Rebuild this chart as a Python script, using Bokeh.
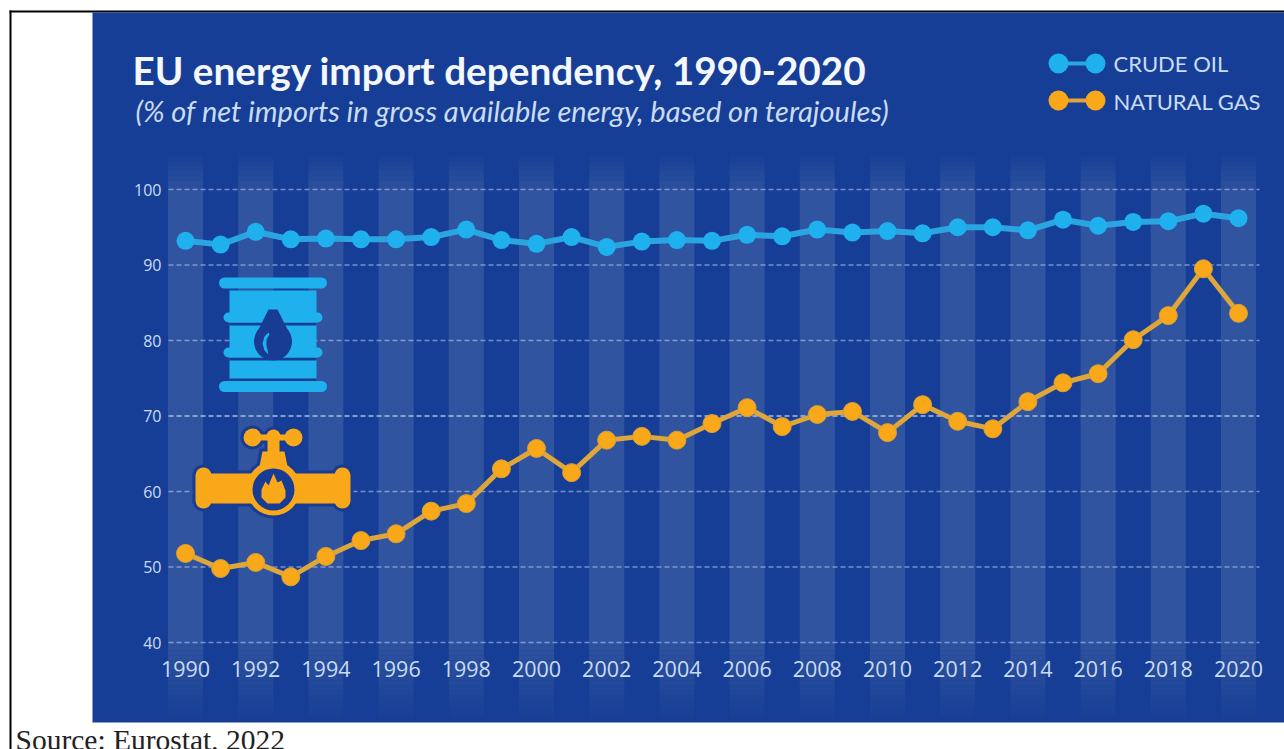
from bokeh.core.properties import value
from bokeh.embed import file_html
from bokeh.models import FixedTicker, LinearAxis, Range1d
from bokeh.plotting import figure
from bokeh.resources import INLINE

years = list(range(1990, 2021))
crude_oil = [93.2, 92.7, 94.4, 93.4, 93.5, 93.4, 93.4, 93.7, 94.7, 93.3, 92.8,
             93.7, 92.4, 93.1, 93.3, 93.2, 94.0, 93.8, 94.7, 94.3, 94.5,
             94.2, 95.0, 95.0, 94.6, 96.0, 95.2, 95.7, 95.8, 96.8, 96.2]
natural_gas = [51.8, 49.8, 50.6, 48.7, 51.4, 53.5, 54.4, 57.4, 58.4, 63.0, 65.7,
               62.5, 66.8, 67.3, 66.8, 69.0, 71.1, 68.6, 70.2, 70.6, 67.8,
               71.5, 69.3, 68.3, 71.9, 74.4, 75.6, 80.1, 83.3, 89.5, 83.6]
y_ticks = [40, 50, 60, 70, 80, 90, 100]
x_ticks = list(range(1990, 2021, 2))

W, H = 1284, 749
PANEL = "#173e96"
STRIPE = "#30549f"
HALO = "#183c94"
CYAN = "#1fb0ee"
CYAN_LINE = "#2aa5e2"
ORANGE = "#f9a81a"
ORANGE_LINE = "#dfa63a"
INK = "#c9dcf2"

# Pixel position of the data origin and scale of the plot area
X0, X_PER_YEAR = 185.0, 35.1
Y100, Y_PER_UNIT = 189.0, 7.55
# The svg text baseline lands this fraction of the font size below its anchor
BASELINE_SHIFT = 0.37


def x_at(px):
    return 1990 + (px - X0) / X_PER_YEAR


def y_at(py):
    return 100 - (py - Y100) / Y_PER_UNIT


p = figure(width=W, height=H, output_backend="svg", toolbar_location=None,
           x_range=Range1d(x_at(0), x_at(W)), y_range=Range1d(y_at(H), y_at(0)),
           x_axis_type=None, y_axis_type=None, min_border=0, outline_line_color=None,
           background_fill_color="white", border_fill_color="white")
p.extra_x_ranges["px"] = Range1d(0, W)
p.extra_y_ranges["px"] = Range1d(H, 0)
p.xgrid.visible = False
p.ygrid.visible = False


def box(l, r, t, b, color):
    p.quad(left=l, right=r, top=t, bottom=b, fill_color=color, line_color=None,
           x_range_name="px", y_range_name="px")


def bar(x0, y0, x1, y1, color, width):
    p.line([x0, x1], [y0, y1], line_color=color, line_width=width, line_cap="round",
           x_range_name="px", y_range_name="px")


def dot(x, y, r, color):
    p.circle(x=[x], y=[y], radius=r, fill_color=color, line_color=None,
             x_range_name="px", y_range_name="px")


def poly(xs, ys, color):
    p.patch(xs, ys, fill_color=color, line_color=None, x_range_name="px", y_range_name="px")


def caption(x, baseline, s, size, color=INK, font="Open Sans", style="normal"):
    p.text(x=[x], y=[baseline - BASELINE_SHIFT * size], text=[s], text_font=value(font),
           text_font_size=f"{size}px", text_font_style=style, text_color=color,
           text_align="left", text_baseline="alphabetic", x_range_name="px", y_range_name="px")


# Page frame and blue panel
box(9, 11, 749, 10, "black")
box(9, W, 12, 10, "black")
box(92, W, 722, 12, PANEL)

# Alternating year stripes that fade out above and below the plot
slices = [(190, 645, 1.0)]
slices += [(155 + 5 * i, 160 + 5 * i, (i + 1) / 8) for i in range(7)]
slices += [(645 + 5 * i, 650 + 5 * i, 1 - (i + 1) / 16) for i in range(15)]
for top_px, bottom_px, alpha in slices:
    p.quad(left=[t - 0.5 for t in x_ticks], right=[t + 0.5 for t in x_ticks],
           top=y_at(top_px), bottom=y_at(bottom_px),
           fill_color=STRIPE, fill_alpha=alpha, line_color=None)

# Dashed reference lines, the 70 line a little stronger
p.segment(x0=[x_at(168)] * len(y_ticks), x1=[x_at(1259)] * len(y_ticks), y0=y_ticks, y1=y_ticks,
          line_color="#a9bfe6", line_width=1.3, line_dash="5 3",
          line_alpha=[1.0 if t == 70 else 0.65 for t in y_ticks])

# Axes sit inside the plot area, carrying only their tick labels
left_axis = LinearAxis(ticker=FixedTicker(ticks=y_ticks), fixed_location=x_at(168))
bottom_axis = LinearAxis(ticker=FixedTicker(ticks=x_ticks), fixed_location=40)
for axis in (left_axis, bottom_axis):
    axis.axis_line_color = None
    axis.major_tick_line_color = None
    axis.minor_tick_line_color = None
    axis.major_label_text_color = INK
    axis.major_label_text_font = "Open Sans"
left_axis.major_label_text_font_size = "16px"
left_axis.major_label_standoff = 1
bottom_axis.major_label_text_font_size = "21.5px"
bottom_axis.major_label_standoff = 12
bottom_axis.major_label_overrides = {t: str(t) for t in x_ticks}
p.add_layout(left_axis, "left")
p.add_layout(bottom_axis, "below")

# Series
p.line(years, crude_oil, line_color=CYAN_LINE, line_width=6)
p.scatter(years, crude_oil, size=18, fill_color=CYAN, line_color=None)
p.line(years, natural_gas, line_color=ORANGE_LINE, line_width=5)
p.scatter(years, natural_gas, size=18, fill_color=ORANGE, line_color="#d99f35", line_width=1)

# Oil barrel icon
box(229, 316, 380, 290, CYAN)
for gap in (322, 357, 378):
    box(229, 316, gap + 3, gap, HALO)
bar(224, 282.5, 321, 282.5, CYAN, 11)
bar(228, 317, 317, 317, CYAN, 10)
bar(228, 352, 317, 352, CYAN, 10)
bar(224, 386, 321, 386, CYAN, 11)
dot(272.5, 341, 19, HALO)
poly([272.5, 268, 257, 288, 277], [309, 309, 331, 331, 309], HALO)
poly([268, 264, 262, 264, 268, 266, 266, 269], [332, 336, 343, 350, 354, 345, 339, 334], CYAN)

# Gas valve icon: a dark outline first, then the shape on top
for color, grow in ((HALO, 3), (ORANGE, 0)):
    bar(203, 475, 203, 500, color, 16 + 2 * grow)
    bar(342, 475, 342, 500, color, 16 + 2 * grow)
    box(203, 342, 503 + grow, 473 - grow, color)
    dot(273, 488, 27 + grow, color)
    poly([262 - grow, 284 + grow, 289 + grow, 257 - grow], [451 - grow, 451 - grow, 476, 476], color)
    box(267 - grow, 279 + grow, 456, 437, color)
    bar(252, 437, 293, 437, color, 6 + 2 * grow)
    dot(252, 437, 9 + grow, color)
    dot(273, 436, 7 + grow, color)
    dot(293, 437, 9 + grow, color)
dot(273, 489, 21, HALO)
poly([273, 277, 281, 285, 285, 279, 267, 261, 261, 265, 268],
     [473, 482, 480, 490, 497, 503, 503, 497, 489, 481, 485], ORANGE)

# Legend
bar(1058, 63, 1095, 63, CYAN_LINE, 4)
dot(1058, 63, 10, CYAN)
dot(1095, 63, 10, CYAN)
bar(1058, 100, 1095, 100, ORANGE_LINE, 4)
dot(1058, 100, 10, ORANGE)
dot(1095, 100, 10, ORANGE)
caption(1113, 71, "CRUDE OIL", 22, font="Lato")
caption(1113, 109, "NATURAL GAS", 22, font="Lato")

# Titles and source
caption(132, 84, "EU energy import dependency, 1990-2020", 38.7, color="#f4f7fc", font="Lato", style="bold")
caption(135, 121, "(% of net imports in gross available energy, based on terajoules)", 29,
        font="Lato", style="italic")
caption(15, 750, "Source: Eurostat, 2022", 29.5, color="#222222", font="Liberation Serif")

open("out.html", "w").write(file_html(p, INLINE))
